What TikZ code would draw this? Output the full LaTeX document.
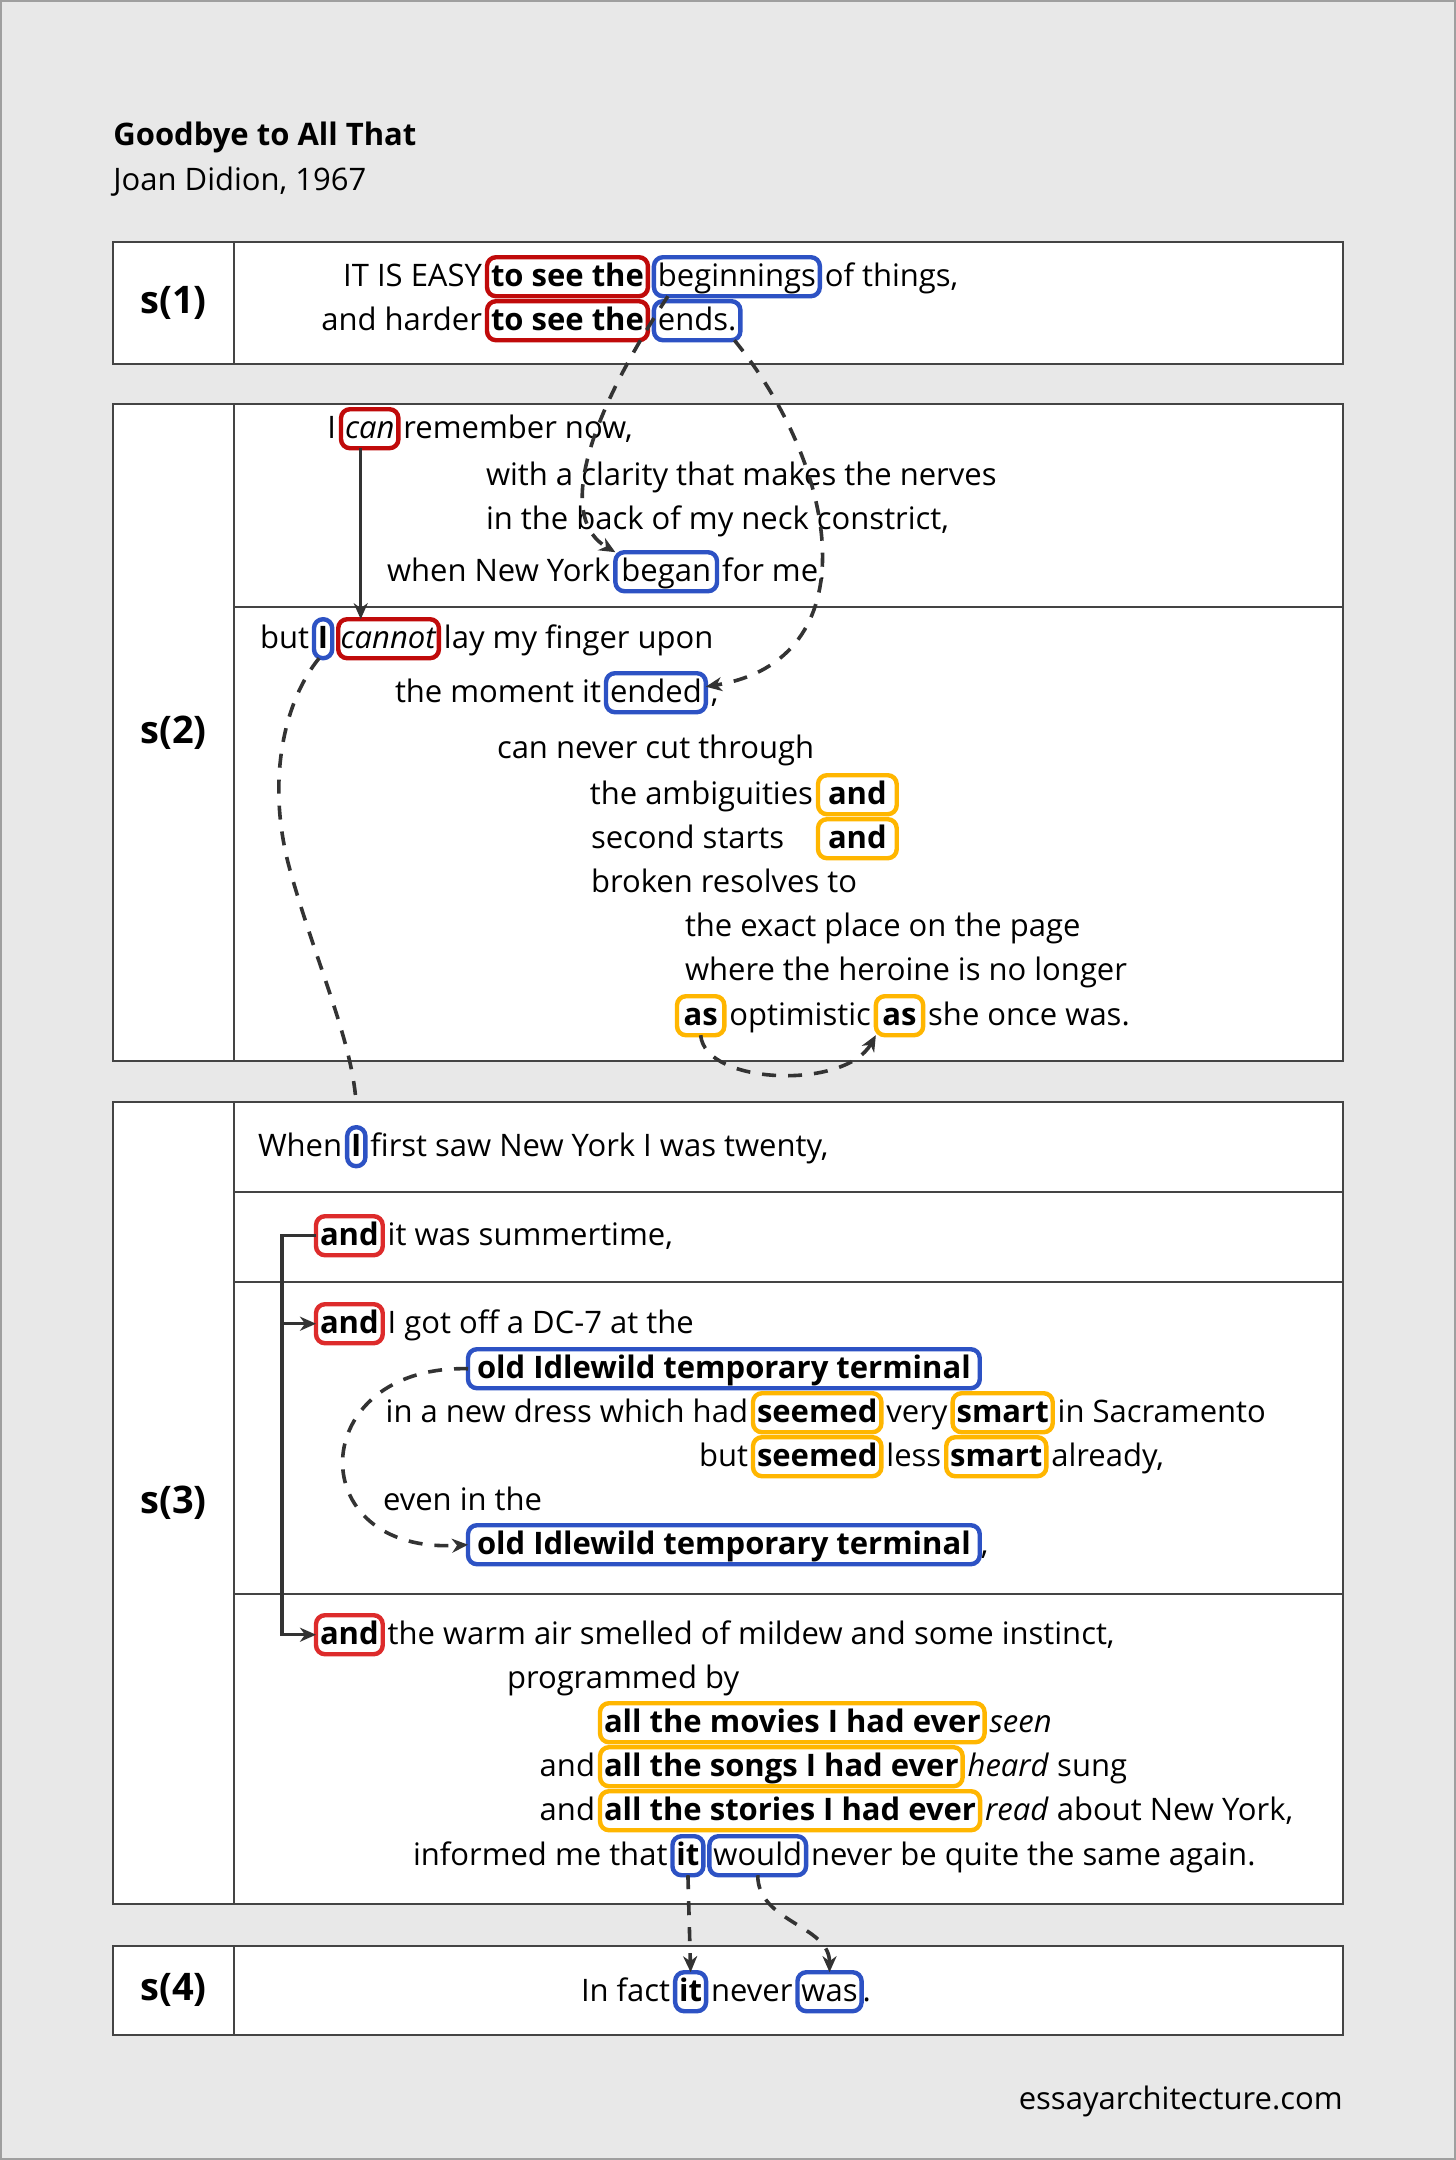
\documentclass[tikz,border=0pt]{standalone}
\usepackage{fontspec}
\IfFontExistsTF{Open Sans Bold}{\setmainfont{Open Sans}}{\setmainfont{Noto Sans}[AutoFakeBold=2.2]}
\usetikzlibrary{arrows.meta}
\definecolor{bgc}{HTML}{E8E8E8}
\definecolor{framec}{HTML}{444444}
\definecolor{redA}{HTML}{C00A0A}
\definecolor{redB}{HTML}{DD2B2B}
\definecolor{blueA}{HTML}{2D52C4}
\definecolor{orgA}{HTML}{FFB600}
\definecolor{lnc}{HTML}{333333}
\newcommand\bodyfont{\fontsize{15.5}{18}\selectfont}
\tikzset{
  tx/.style={font=\bodyfont, inner xsep=2.5pt, inner ysep=0pt, outer sep=0pt, anchor=base west},
  bx/.style={font=\bodyfont, rounded corners=4.5pt, line width=2.2pt, inner xsep=2pt, inner ysep=1.5pt,
             text height=12.9pt, text depth=3.6pt, outer sep=0pt, anchor=base west},
  rb/.style={bx, draw=redA},
  rbb/.style={bx, draw=redB},
  bb/.style={bx, draw=blueA},
  ob/.style={bx, draw=orgA},
  fr/.style={draw=framec, line width=0.75pt, fill=white},
  dv/.style={draw=framec, line width=0.75pt},
  lab/.style={font=\fontsize{19}{23}\selectfont\bfseries, inner sep=0pt},
  tip/.style={-{Stealth[length=8pt,width=7pt,inset=2.5pt]}},
  dsh/.style={draw=lnc, line width=1.8pt, dash pattern=on 7pt off 6pt},
  sol/.style={draw=lnc, line width=1.7pt},
}
\begin{document}
\begin{tikzpicture}[x=0.5pt,y=-0.5pt]
\useasboundingbox (0,0) rectangle (1456,2160);
\fill[bgc] (0,0) rectangle (1456,2160);
\draw[gray!75, line width=1pt] (1,1) rectangle (1455,2159);

% title
\node[anchor=base west, inner sep=0pt, font=\fontsize{15.5}{18}\selectfont\bfseries] (title) at (113,145) {Goodbye to All That};
\node[anchor=base west, inner sep=0pt, font=\bodyfont] (author) at (113,190) {Joan Didion, 1967};
\node[anchor=base east, inner sep=0pt, font=\bodyfont] (site) at (1343,2109) {essayarchitecture.com};

% frames
\draw[fr] (113,242) rectangle (1343,364);
\draw[dv] (234,242) -- (234,364);
\draw[fr] (113,404) rectangle (1343,1061);
\draw[dv] (234,404) -- (234,1061);
\draw[dv] (234,607) -- (1343,607);
\draw[fr] (113,1102) rectangle (1343,1904);
\draw[dv] (234,1102) -- (234,1904);
\draw[dv] (234,1192) -- (1343,1192);
\draw[dv] (234,1282) -- (1343,1282);
\draw[dv] (234,1594) -- (1343,1594);
\draw[fr] (113,1946) rectangle (1343,2035);
\draw[dv] (234,1946) -- (234,2035);

\node[lab] (s1) at (173.5,303) {s(1)};
\node[lab] (s2) at (173.5,733) {s(2)};
\node[lab] (s3) at (173.5,1503) {s(3)};
\node[lab] (s4) at (173.5,1990) {s(4)};

% s(1)
\node[rb] (r1) at (487,286) {\textbf{to see the}};
\node[tx, anchor=base east] (t1a) at (r1.base west) {IT IS EASY};
\node[bb] (b1) at ([xshift=3pt]r1.base east) {beginnings};
\node[tx] (t1b) at (b1.base east) {of things,};
\node[rb] (r2) at (487,330) {\textbf{to see the}};
\node[tx, anchor=base east] (t2a) at (r2.base west) {and harder};
\node[bb] (b2) at ([xshift=3pt]r2.base east) {ends.};

% s(2) upper
\node[rb] (can) at (341,438) {\textit{can}};
\node[tx, anchor=base east] (tI) at (can.base west) {I};
\node[tx] (rem) at (can.base east) {remember now,};
\node[tx] (w1) at (481,485) {with a clarity that makes the nerves};
\node[tx] (w2) at (481,529) {in the back of my neck constrict,};
\node[tx] (w3) at (382,581) {when New York};
\node[bb, inner xsep=3pt] (began) at (w3.base east) {began};
\node[tx] (w4) at (began.base east) {for me,};

% s(2) lower
\node[tx] (but) at (255,648) {but};
\node[bb] (bI) at (but.base east) {\textbf{I}};
\node[rb, inner xsep=1.2pt] (cannot) at ([xshift=3pt]bI.base east) {\textit{cannot}};
\node[tx] (lay) at (cannot.base east) {lay my finger upon};
\node[tx] (mom) at (390,702) {the moment it};
\node[bb] (ended) at (mom.base east) {ended};
\node[tx] (cm1) at (ended.base east) {,};
\node[tx] (cnc) at (492,758) {can never cut through};
\node[ob, inner xsep=5pt] (and1) at (818,804) {\textbf{and}};
\node[tx, anchor=base east] (amb) at (and1.base west) {the ambiguities};
\node[ob, inner xsep=5pt] (and2) at (818,848) {\textbf{and}};
\node[tx] (sec) at (586,848) {second starts};
\node[tx] (brk) at (586,892) {broken resolves to};
\node[tx] (ex) at (680,936) {the exact place on the page};
\node[tx] (wh) at (680,980) {where the heroine is no longer};
\node[ob, inner xsep=3.3pt] (as1) at (677,1025) {\textbf{as}};
\node[tx] (opt) at (as1.base east) {optimistic};
\node[ob, inner xsep=3.3pt] (as2) at (opt.base east) {\textbf{as}};
\node[tx] (she) at (as2.base east) {she once was.};

% s(3)
\node[tx] (when) at (253,1156) {When};
\node[bb] (I3) at (when.base east) {\textbf{I}};
\node[tx] (fs) at (I3.base east) {first saw New York I was twenty,};
\node[rbb] (and3a) at (316,1245) {\textbf{and}};
\node[tx] (sum) at (and3a.base east) {it was summertime,};
\node[rbb] (and3b) at (316,1333) {\textbf{and}};
\node[tx] (got) at (and3b.base east) {I got off a DC-7 at the};
\node[bb, inner xsep=4.5pt] (oit1) at (468,1378) {\textbf{old Idlewild temporary terminal}};
\node[ob] (seem1) at (753,1422) {\textbf{seemed}};
\node[tx, anchor=base east] (dress) at (seem1.base west) {in a new dress which had};
\node[tx] (very) at (seem1.base east) {very};
\node[ob] (smart1) at (very.base east) {\textbf{smart}};
\node[tx] (sac) at (smart1.base east) {in Sacramento};
\node[ob] (seem2) at (753,1466) {\textbf{seemed}};
\node[tx, anchor=base east] (but2) at (seem2.base west) {but};
\node[tx] (less) at (seem2.base east) {less};
\node[ob] (smart2) at (less.base east) {\textbf{smart}};
\node[tx] (alr) at (smart2.base east) {already,};
\node[tx] (even) at (378,1510) {even in the};
\node[bb, inner xsep=4.5pt] (oit2) at (468,1554) {\textbf{old Idlewild temporary terminal}};
\node[tx, inner xsep=0.5pt] (cm2) at (oit2.base east) {,};
\node[rbb] (and3c) at (316,1644) {\textbf{and}};
\node[tx] (warm) at (and3c.base east) {the warm air smelled of mildew and some instinct,};
\node[tx] (prog) at (502,1688) {programmed by};
\node[ob] (mov) at (600,1732) {\textbf{all the movies I had ever}};
\node[tx] (seen) at (mov.base east) {\textit{seen}};
\node[ob] (song) at (600,1776) {\textbf{all the songs I had ever}};
\node[tx, anchor=base east] (anda) at (song.base west) {and};
\node[tx] (heard) at (song.base east) {\textit{heard} sung};
\node[ob] (stor) at (600,1820) {\textbf{all the stories I had ever}};
\node[tx, anchor=base east] (andb) at (stor.base west) {and};
\node[tx] (read) at (stor.base east) {\textit{read} about New York,};
\node[tx] (inf) at (408,1865) {informed me that};
\node[bb] (it3) at (inf.base east) {\textbf{it}};
\node[bb] (would) at ([xshift=3pt]it3.base east) {would};
\node[tx] (nev) at (would.base east) {never be quite the same again.};

% s(4)
\node[tx] (fact) at (576,2001) {In fact};
\node[bb] (it4) at (fact.base east) {\textbf{it}};
\node[tx] (never) at (it4.base east) {never};
\node[bb] (was) at (never.base east) {was};
\node[tx, inner xsep=0.5pt] (dot) at (was.base east) {.};

% connectors
\coordinate (s3top) at (356,1102);
\draw[dsh, tip] ([xshift=7pt]b1.south west) .. controls (580,430) and (560,520) .. (began.north west);
\draw[dsh, tip] ([xshift=-3pt]b2.south east) .. controls (840,470) and (870,660) .. ([yshift=3pt]ended.east);
\draw[sol, tip] ([xshift=-4.5pt]can.south) -- ([xshift=-4.5pt]can.south |- cannot.north);
\draw[dsh] ([xshift=-2pt]bI.south) .. controls (285,700) and (265,780) .. (290,870) .. controls (315,960) and (352,1040) .. (s3top);
\draw[dsh, tip] (as1.south) .. controls (705,1085) and (845,1090) .. (as2.south west);
\draw[sol, tip] (and3a.west) -- ++(-17pt,0) coordinate (brt) |- (and3c.west);
\draw[sol, tip] (brt |- and3b.west) -- (and3b.west);
\draw[dsh, tip] (oit1.west) .. controls (305,1365) and (300,1555) .. (oit2.west);
\draw[dsh, tip] (it3.south) -- (it4.north);
\draw[dsh, tip] (would.south) to[out=-90, in=90] (was.north);
\end{tikzpicture}
\end{document}
